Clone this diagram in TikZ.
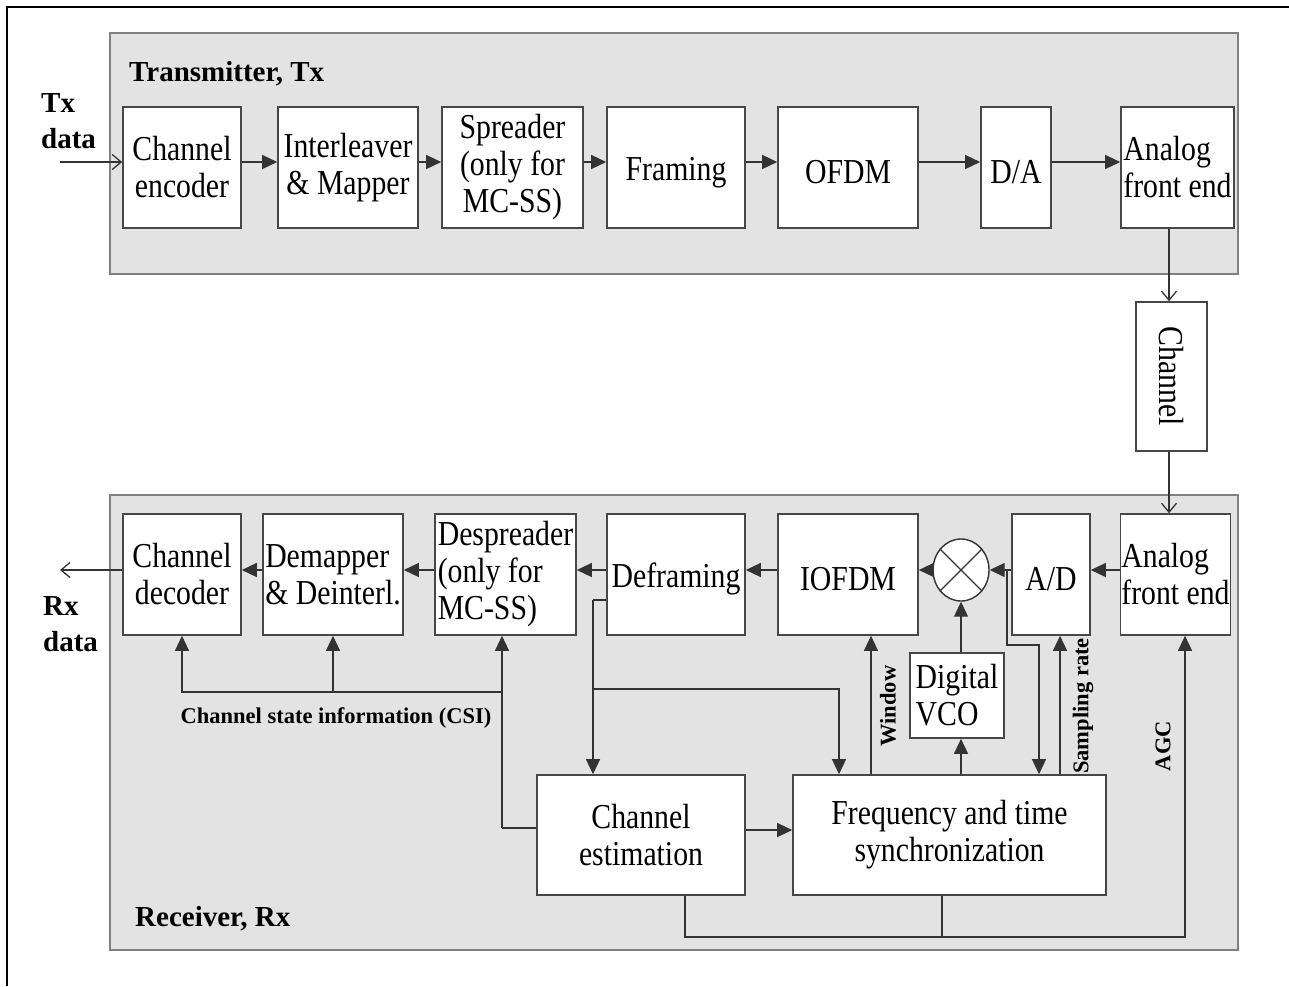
\documentclass[tikz,border=0pt]{standalone}
\usepackage{fontspec}
\setmainfont{Liberation Serif}[FakeStretch=0.85]
\newfontfamily\lblfont{Liberation Serif}
\usetikzlibrary{arrows.meta,shapes.geometric}

\tikzset{
  panel/.style={fill=black!11, draw=black!50, line width=1.8pt},
  plainblk/.style={draw=black!72, fill=white, line width=1.6pt, inner sep=1pt,
    align=center, font=\fontsize{35}{37}\selectfont},
  blk/.style={plainblk, execute at begin node={\rule{0pt}{33pt}}},
  blkl/.style={blk, align=left},
  conn/.style={draw=black!80, line width=1.3pt},
  arr/.style={conn, -{Triangle[length=15pt,width=14pt]}},
  barb/.style={conn, -{Straight Barb[length=9pt,width=15pt]}},
  title/.style={font=\lblfont\bfseries\fontsize{29}{36}\selectfont, inner sep=0pt},
  sig/.style={font=\lblfont\bfseries\fontsize{22.5}{26}\selectfont, inner sep=0pt},
}

\begin{document}
\begin{tikzpicture}[x=1pt,y=-1pt]
\useasboundingbox (0,0) rectangle (1289,986);

% outer frame
\draw[black, line width=1.5pt] (7,986) -- (7,7) -- (1289,7);

% panels
\draw[panel] (110,33) rectangle (1238,274);
\draw[panel] (110,495) rectangle (1238,950);

\node[title, anchor=base west] (txtitle) at (129,81) {Transmitter, Tx};
\node[title, anchor=base west] (rxtitle) at (135,926) {Receiver, Rx};

% transmitter chain
\node[blk, minimum width=118pt, minimum height=121pt] (enc)  at (182,167.5)   {Channel\\encoder};
\node[blk, minimum width=140pt, minimum height=121pt] (il)   at (348,167.5)   {Interleaver\\\& Mapper};
\node[blk, minimum width=141pt, minimum height=121pt] (spr)  at (512.5,167.5) {Spreader\\(only for\\MC-SS)};
\node[blk, minimum width=138pt, minimum height=121pt] (frm)  at (676,167.5)   {Framing};
\node[blk, minimum width=140pt, minimum height=121pt] (ofdm) at (848,167.5)   {OFDM};
\node[blk, minimum width=70pt,  minimum height=121pt] (da)   at (1016,167.5)  {D/A};
\node[blkl, minimum width=113pt, minimum height=121pt] (afe1) at (1177.5,167.5) {Analog\\front end};

% channel
\node[plainblk, minimum width=71pt, minimum height=149pt] (chan) at (1171.5,376.5) {\rotatebox{-90}{Channel}};

% receiver chain
\node[blk, minimum width=118pt, minimum height=121pt] (dec)   at (182,574.5)   {Channel\\decoder};
\node[blkl, minimum width=140pt, minimum height=121pt] (dmap) at (333,574.5)   {Demapper\\\& Deinterl.};
\node[blkl, minimum width=141pt, minimum height=121pt] (desp) at (505.5,574.5) {Despreader\\(only for\\MC-SS)};
\node[blk, minimum width=138pt, minimum height=121pt] (defr)  at (676,574.5)   {Deframing};
\node[blk, minimum width=140pt, minimum height=121pt] (iofdm) at (848,574.5)   {IOFDM};
\node[blk, minimum width=78pt,  minimum height=121pt] (ad)    at (1051,574.5)  {A/D};
\node[blkl, minimum width=109pt, minimum height=121pt] (afe2) at (1175.5,574.5) {Analog\\front end};
\node[draw=black!80, fill=white, line width=1.4pt, ellipse, inner sep=0pt,
      minimum width=56pt, minimum height=62pt] (mix) at (961,570) {};
\draw[black!80, line width=1.2pt] (mix.45) -- (mix.225) (mix.135) -- (mix.315);

\node[plainblk, align=left, minimum width=94pt, minimum height=85pt] (vco) at (957,695.5) {Digital\\VCO};
\node[blk, minimum width=208pt, minimum height=120pt] (cest) at (641,835)   {Channel\\estimation};
\node[blk, minimum width=313pt, minimum height=120pt] (sync) at (949.5,835) {Frequency and time\\synchronization};

% reference rows and columns
\coordinate (ty)  at (0,162);
\coordinate (ry)  at (0,570);
\coordinate (cx)  at (1169,0);
\coordinate (txin) at (60,162);
\coordinate (rxout) at (60,570);

% transmitter connectors
\draw[barb] (txin) -- (enc.west |- ty);
\draw[arr] (enc.east |- ty) -- (il.west |- ty);
\draw[arr] (il.east |- ty) -- (spr.west |- ty);
\draw[arr] (spr.east |- ty) -- (frm.west |- ty);
\draw[arr] (frm.east |- ty) -- (ofdm.west |- ty);
\draw[arr] (ofdm.east |- ty) -- (da.west |- ty);
\draw[arr] (da.east |- ty) -- (afe1.west |- ty);

\draw[barb] (afe1.south -| cx) -- (chan.north -| cx);
\draw[barb] (chan.south -| cx) -- (afe2.north -| cx);

% receiver connectors
\draw[arr] (afe2.west |- ry) -- (ad.east |- ry);
\draw[arr] (ad.west |- ry) -- (mix.east);
\draw[arr] (mix.west) -- (iofdm.east |- ry);
\draw[arr] (iofdm.west |- ry) -- (defr.east |- ry);
\draw[arr] (defr.west |- ry) -- (desp.east |- ry);
\draw[arr] (desp.west |- ry) -- (dmap.east |- ry);
\draw[arr] (dmap.west |- ry) -- (dec.east |- ry);
\draw[barb] (dec.west |- ry) -- (rxout);

% channel state information
\coordinate (csj) at (502,828);
\coordinate (csh) at (502,692);
\draw[conn] (cest.west |- csj) -- (csj);
\draw[arr] (csj) -- (desp.south -| csj);
\draw[arr] (csh) -| (dec.south);
\draw[arr] (dmap.south |- csh) -- (dmap.south);
\node[sig] (csi) at (336,718) {Channel state information (CSI)};

% deframing taps
\coordinate (dfj) at (593,600);
\coordinate (dfb) at (593,689);
\coordinate (xf)  at (839,0);
\draw[conn] (defr.west |- dfj) -- (dfj);
\draw[arr] (dfj) -- (cest.north -| dfj);
\draw[arr] (dfb) -| (sync.north -| xf);

% window
\coordinate (xw) at (871,0);
\draw[arr] (sync.north -| xw) -- (iofdm.south -| xw);
\node[sig, rotate=90] (win) at (888,706) {Window};

% digital VCO
\draw[arr] (sync.north -| mix) -- (vco.south -| mix);
\draw[arr] (vco.north -| mix) -- (mix.south);

% A/D output tap to synchronization
\coordinate (adj) at (1007,570);
\coordinate (adk) at (1039,645);
\draw[arr] (adj) |- (adk) -- (sync.north -| adk);

% sampling rate
\coordinate (xs) at (1060,0);
\draw[arr] (sync.north -| xs) -- (ad.south -| xs);
\node[sig, rotate=90] (samp) at (1083,706) {Sampling rate};

% estimation to synchronization
\coordinate (ce) at (0,830);
\draw[arr] (cest.east |- ce) -- (sync.west |- ce);

% AGC loop
\coordinate (agl) at (685,937);
\coordinate (xa)  at (1185,0);
\coordinate (xsb) at (942,0);
\draw[arr] (cest.south -| agl) -- (agl) -- (agl -| xa) -- (afe2.south -| xa);
\draw[conn] (sync.south -| xsb) -- (agl -| xsb);
\node[sig, rotate=90] (agc) at (1163,746) {AGC};

% data labels
\node[title, anchor=base west, align=left] (txd) at (41,148) {Tx\\data};
\node[title, anchor=base west, align=left] (rxd) at (43,651) {Rx\\data};
\end{tikzpicture}
\end{document}
